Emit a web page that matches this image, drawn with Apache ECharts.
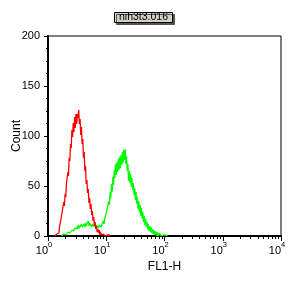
<!DOCTYPE html>
<html><head><meta charset="utf-8">
<script src="https://cdn.jsdelivr.net/npm/echarts@6/dist/echarts.min.js"></script>
<style>html,body{margin:0;padding:0;background:#fff}#c{width:288px;height:288px}</style>
</head><body><div id="c"></div>
<script>
const sampleName = 'nih3t3.016';
const xAxisName = 'FL1-H';
const yAxisName = 'Count';
const decadeExponents = ['0', '1', '2', '3', '4'];
const channelsPerDecade = 256;
const channelStep = 3;
const redStartChannel = 30;
const redCounts = [0,1,0,2,1,4,3,10,9,17,15,25,23,34,30,42,39,52,50,64,60,78,75,92,88,106,99,113,104,119,108,122,112,122,118,126,112,117,101,109,92,97,78,84,65,70,52,56,43,47,33,38,27,32,21,25,15,19,10,14,7,10,4,7,3,6,1,4,1,2,0,2,0,1,0,2,0,1,0,0,1,0,0];
const greenStartChannel = 60;
const greenCounts = [0,1,0,2,1,3,1,3,2,4,2,4,3,5,3,6,4,7,5,8,6,9,7,10,7,11,8,10,8,12,9,11,8,12,9,13,10,12,9,15,10,13,11,14,9,12,10,13,9,12,8,11,9,12,8,11,10,13,9,12,11,15,12,17,15,22,20,28,26,35,31,44,38,52,44,59,51,66,58,72,61,74,64,77,66,79,68,81,71,84,73,86,76,87,72,80,65,72,55,65,53,62,49,58,46,53,41,48,36,44,32,39,27,35,24,31,20,28,17,24,14,20,11,17,9,14,7,12,5,10,4,9,3,7,2,6,1,5,1,4,0,3,0,3,1,2,0,2,0,1,1,0,1,0,0,0,0];

function toPairs(start, counts) {
  return counts.map((c, i) => [start + i * channelStep, c]);
}
const minorChannels = [];
for (let d = 0; d < 4; d++) for (let k = 2; k <= 9; k++) minorChannels.push(channelsPerDecade * (d + Math.log10(k)));

const FONT = 'Liberation Sans, Arial, sans-serif';
const chart = echarts.init(document.getElementById('c'), null, {renderer: 'canvas'});
chart.setOption({
  animation: false,
  backgroundColor: '#fff',
  title: {
    text: sampleName, left: 114, top: 12,
    padding: [0, 5], backgroundColor: '#d4d0c8', borderColor: '#000', borderWidth: 1,
    shadowColor: '#555', shadowBlur: 0, shadowOffsetX: 2, shadowOffsetY: 2,
    textStyle: {fontFamily: FONT, fontSize: 10.5, fontWeight: 'normal', color: '#000', lineHeight: 11}
  },
  grid: {left: 48, top: 36, width: 233, height: 200, outerBoundsMode: 'none', containLabel: false,
    show: true, borderColor: '#000', borderWidth: 1, backgroundColor: 'transparent'},
  xAxis: [{
    type: 'value', min: 0, max: 4 * channelsPerDecade, interval: channelsPerDecade,
    name: xAxisName, nameLocation: 'middle', nameGap: 25, nameMoveOverlap: false,
    nameTextStyle: {fontFamily: FONT, fontSize: 12, color: '#000'},
    splitLine: {show: false},
    axisLine: {lineStyle: {color: '#000', width: 2}},
    axisTick: {show: true, length: 5, lineStyle: {color: '#000', width: 1}},
    axisLabel: {
      margin: 9, padding: [0, 8, 0, 0], color: '#000', fontFamily: FONT,
      formatter: v => '{b|10}{s|' + decadeExponents[Math.round(v / channelsPerDecade)] + '}',
      rich: {
        b: {fontFamily: FONT, fontSize: 11, color: '#000'},
        s: {fontFamily: FONT, fontSize: 7.5, color: '#000', lineHeight: 8, padding: [0, 0, 12, 0]}
      }
    }
  }, {
    type: 'value', min: 0, max: 4 * channelsPerDecade, position: 'bottom',
    splitLine: {show: false}, axisLine: {show: false},
    axisLabel: {show: false},
    axisTick: {show: true, length: 3, customValues: minorChannels, lineStyle: {color: '#000', width: 1}}
  }],
  yAxis: {
    type: 'value', min: 0, max: 200, interval: 50,
    name: yAxisName, nameLocation: 'middle', nameGap: 25, nameMoveOverlap: false,
    nameTextStyle: {fontFamily: FONT, fontSize: 12, color: '#000'},
    splitLine: {show: false},
    axisLine: {show: true, lineStyle: {color: '#000', width: 2}},
    axisTick: {show: true, length: 4, lineStyle: {color: '#000', width: 1}},
    minorTick: {show: true, splitNumber: 4, length: 2, lineStyle: {color: '#000', width: 1}},
    axisLabel: {margin: 8, color: '#000', fontFamily: FONT, fontSize: 11}
  },
  series: [{
    type: 'line', name: 'green', data: toPairs(greenStartChannel, greenCounts),
    showSymbol: false, symbol: 'none', silent: true,
    lineStyle: {color: '#00ff00', width: 1.3}
  }, {
    type: 'line', name: 'red', data: toPairs(redStartChannel, redCounts),
    showSymbol: false, symbol: 'none', silent: true,
    lineStyle: {color: '#ff0000', width: 1.3}
  }]
});
</script></body></html>
